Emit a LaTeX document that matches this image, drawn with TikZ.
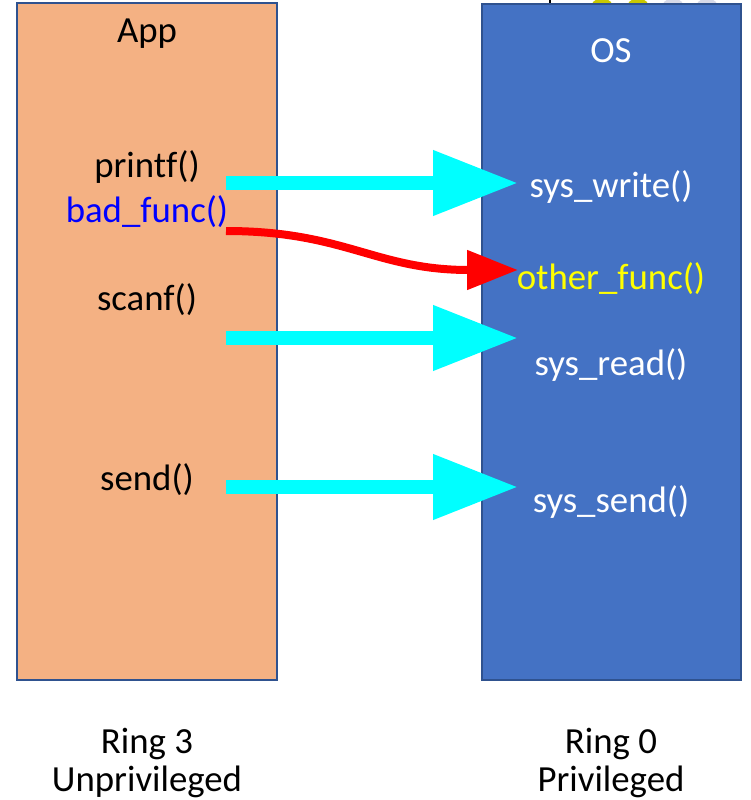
\documentclass[tikz,border=0pt]{standalone}
\usepackage{fontspec}
\setmainfont{Carlito}[Ligatures={NoCommon}]
\usetikzlibrary{arrows.meta}

\definecolor{appfill}{HTML}{F4B183}
\definecolor{osfill}{HTML}{4472C4}
\definecolor{boxedge}{HTML}{2F528F}
\definecolor{callcyan}{HTML}{00FFFF}
\definecolor{badred}{HTML}{FF0000}
\definecolor{badblue}{HTML}{0000FF}
\definecolor{hookyellow}{HTML}{FFFF00}
\definecolor{dotyellow}{HTML}{C9C800}
\definecolor{dotgrey}{HTML}{D6D9E8}

\begin{document}
\begin{tikzpicture}[x=1pt, y=-1pt,
  every node/.style={inner sep=0pt, outer sep=0pt},
  panel/.style={draw=boxedge, line width=2pt, rectangle},
  lbl/.style={anchor=base, font=\fontsize{36.8}{44}\selectfont},
  syscall/.style={draw=callcyan, line width=14pt,
    -{Triangle[length=85pt, width=62pt]}},
  hijack/.style={draw=badred, line width=8pt,
    -{Triangle[length=51pt, width=38pt]}}]

\useasboundingbox (0,0) rectangle (750,800);

% partially visible shapes along the top edge
\begin{scope}
  \clip (0,0) rectangle (750,800);
  \draw[black, line width=2pt] (550,-2) -- (550,4);
  \fill[dotyellow] (602,10) circle (12);
  \fill[dotyellow] (638,10) circle (12);
  \fill[dotgrey]   (673,10) circle (12);
  \fill[dotgrey]   (707,10) circle (12);
\end{scope}

% user-space and kernel-space panels
\node[panel, fill=appfill, minimum width=260pt, minimum height=677pt] (app) at (147,341.5) {};
\node[panel, fill=osfill,  minimum width=259pt, minimum height=676pt] (os)  at (611.5,342) {};

% App side
\node[lbl] (apptitle) at (147,43)  {App};
\node[lbl] (printf)   at (147,177) {printf()};
\node[lbl, text=badblue] (badfunc) at (147,222) {bad\_func()};
\node[lbl] (scanf)    at (147,310) {scanf()};
\node[lbl] (send)     at (147,490) {send()};

% OS side
\node[lbl, text=white] (ostitle)  at (611,63)  {OS};
\node[lbl, text=white] (syswrite) at (611,197) {sys\_write()};
\node[lbl, text=hookyellow] (otherfunc) at (611,289) {other\_func()};
\node[lbl, text=white] (sysread)  at (611,375) {sys\_read()};
\node[lbl, text=white] (syssend)  at (611,512) {sys\_send()};

% privilege levels
\node[lbl] (ring3) at (147,753) {Ring 3};
\node[lbl] (unpriv) at (147,791) {Unprivileged};
\node[lbl] (ring0) at (611,753) {Ring 0};
\node[lbl] (priv)  at (611,791) {Privileged};

% connector endpoints
\coordinate (printfout) at (226,183);
\coordinate (writein)   at (518,183);
\coordinate (badout)    at (226,231);
\coordinate (otherin)   at (518,270);
\coordinate (scanfout)  at (226,338);
\coordinate (readin)    at (518,338);
\coordinate (sendout)   at (226,487);
\coordinate (sendin)    at (518,487);

\draw[syscall] (printfout) -- (writein);
\draw[syscall] (scanfout) -- (readin);
\draw[syscall] (sendout) -- (sendin);
\draw[hijack] (badout) .. controls (345,231) and (375,270) .. (otherin);

\end{tikzpicture}
\end{document}
